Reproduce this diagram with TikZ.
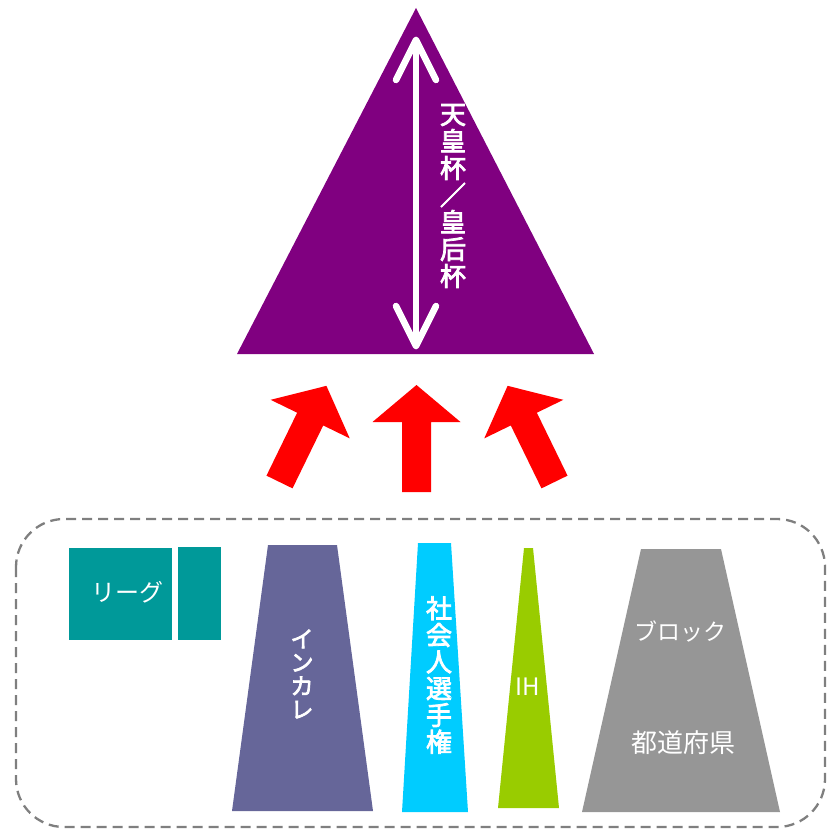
\documentclass[tikz,border=0pt]{standalone}
\usepackage{fontspec}
\setmainfont{Noto Sans CJK JP}
\newfontfamily\cjk{Noto Sans CJK JP}
\newfontfamily\cjkb{Noto Sans CJK JP}[FakeBold=3]
\usetikzlibrary{calc}
\definecolor{purp}{HTML}{800080}
\definecolor{inkc}{HTML}{666699}
\definecolor{cyanc}{HTML}{00CCFF}
\definecolor{greenc}{HTML}{99CC00}
\definecolor{grayc}{HTML}{969696}
\definecolor{tealc}{HTML}{009999}
\definecolor{redc}{HTML}{FF0000}
\definecolor{dashc}{HTML}{7F7F7F}
\tikzset{
  wtext/.style={text=white, inner sep=0pt, align=center},
  dblarrow/.style={draw=white, line width=6.5pt, line cap=round, line join=round},
  redarrow/.style={fill=redc},
  frame/.style={draw=dashc, line width=2.3pt, dash pattern=on 10pt off 6pt, rounded corners=48pt},
}
\begin{document}
\begin{tikzpicture}[x=1pt,y=-1pt]
\useasboundingbox (0,0) rectangle (827,829);
% triangle
\fill[purp] (416,8) -- (594,354) -- (237,354) -- cycle;
\coordinate (dtop) at (416,40);
\coordinate (dbot) at (416,346);
\draw[dblarrow] (dtop) -- (dbot);
\draw[dblarrow] ($(dtop)+(-20,40)$) -- (dtop) -- ($(dtop)+(20,40)$);
\draw[dblarrow] ($(dbot)+(-20,-40)$) -- (dbot) -- ($(dbot)+(20,-40)$);
\node[wtext, font=\cjkb\fontsize{26}{27}\selectfont] (tenno) at (453,196) {天\\皇\\杯\\／\\皇\\后\\杯};
% red arrows
\foreach \px/\py/\ang in {279.5/482/-26, 416.5/492/0, 554.5/482/26}{
  \fill[redarrow, shift={(\px,\py)}, rotate=\ang]
    (-14.5,0) -- (-14.5,-70) -- (-44,-70) -- (0,-107) -- (44,-70) -- (14.5,-70) -- (14.5,0) -- cycle;
}
% dashed frame
\draw[frame] (16,519) rectangle (825,827);
% league boxes
\fill[tealc] (69,548) rectangle (172,640);
\fill[tealc] (178,547) rectangle (221,640);
\node[wtext, font=\cjk\fontsize{24}{24}\selectfont] (league) at (127,592) {リーグ};
% inkare
\fill[inkc] (268,545) -- (337,545) -- (373,811) -- (232,811) -- cycle;
\node[wtext, font=\cjkb\fontsize{23}{23.5}\selectfont] (inkare) at (302,674) {イ\\ン\\カ\\レ};
% shakaijin
\fill[cyanc] (418,543) -- (451,543) -- (468,812) -- (402,812) -- cycle;
\node[wtext, font=\cjkb\fontsize{26}{26.7}\selectfont] (shakai) at (439,675) {社\\会\\人\\選\\手\\権};
% IH
\fill[greenc] (524,548) -- (533,548) -- (559,808) -- (498,808) -- cycle;
\node[wtext, font=\cjk\fontsize{24}{24}\selectfont] (ih) at (528,687) {IH};
% block / prefecture
\fill[grayc] (641,549) -- (721,549) -- (780,812) -- (582,812) -- cycle;
\node[wtext, font=\cjk\fontsize{23}{23}\selectfont] (block) at (680,632) {ブロック};
\node[wtext, font=\cjk\fontsize{26}{26}\selectfont] (pref) at (683,743) {都道府県};
\end{tikzpicture}
\end{document}
